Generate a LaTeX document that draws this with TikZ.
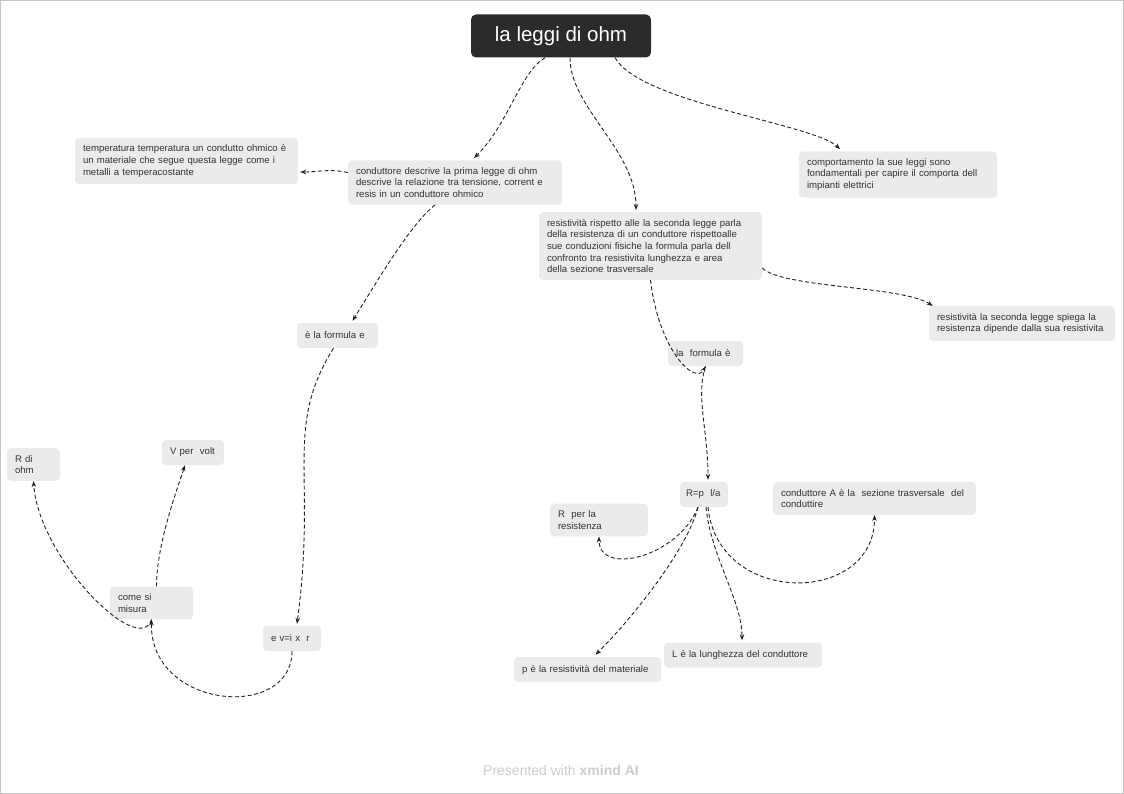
\documentclass[tikz,border=0pt]{standalone}
\usepackage{fontspec}
\setmainfont{Liberation Sans}
\usetikzlibrary{positioning,calc,arrows.meta}
\definecolor{topicgray}{HTML}{EBEBEB}
\definecolor{rootgray}{HTML}{2B2B2B}
\definecolor{linegray}{HTML}{222222}
\definecolor{textgray}{HTML}{333333}
\definecolor{markgray}{HTML}{CCCCCC}

\begin{document}
\begin{tikzpicture}[x=1pt, y=-1pt, >={Stealth[length=6pt,width=4.5pt]},
  topic/.style={fill=topicgray, rounded corners=4pt, align=left, inner xsep=8pt, inner ysep=7pt,
    minimum height=25pt, text=textgray, font=\fontsize{9.6}{11.6}\selectfont},
  link/.style={->, dash pattern=on 4pt off 2.5pt, line width=0.9pt, draw=linegray}]
  \path[use as bounding box] (0,0) rectangle (1124,794);
  \draw[gray!45, line width=1pt] (0.5,0.5) rectangle (1123.5,793.5);

  % root and first level
  \node (root) [fill=rootgray, rounded corners=5pt, text=white, minimum width=180pt, minimum height=43pt,
    font=\fontsize{20.5}{24}\selectfont] at (561,36) {la leggi di ohm};
  \node (temp) [topic, text width=207pt] at (186.5,161) {temperatura temperatura un condutto ohmico è\\ un materiale che segue  questa legge  come i\\metalli a  temperacostante};
  \node (cond) [topic, text width=198pt] at (455,182.5) {conduttore descrive la  prima legge di ohm\\descrive la relazione  tra  tensione, corrent e\\resis in un  conduttore ohmico};
  \node (res) [topic, text width=207pt] at (650.5,246) {resistività rispetto alle la seconda legge  parla\\della resistenza di un conduttore  rispettoalle\\sue conduzioni fisiche la formula  parla dell\\confronto  tra resistivita  lunghezza  e area\\della sezione trasversale};
  \node (comp) [topic, text width=182pt] at (898,174.5) {comportamento la sue leggi sono\\fondamentali per capire il comporta dell\\impianti elettrici};
  \node (res2) [topic, text width=170pt] at (1022,323.5) {resistività la  seconda  legge spiega la\\resistenza dipende dalla sua resistivita};

  % ohm branch
  \node (fe) [topic, text width=65pt] at (337.5,335.5) {è la formula e};
  \node (evir) [topic, text width=42pt] at (292,638.5) {e v=i x\ \ r};
  \node (come) [topic, text width=67pt] at (151.5,603) {come si\\misura};
  \node (rdi) [topic, text width=37pt] at (33.5,464.5) {R di\\ohm};
  \node (vper) [topic, text width=46pt] at (193,452.5) {V per\ \ volt};

  % resistivity branch
  \node (fl) [topic, text width=59pt] at (705.5,353.5) {la\ \ formula è};
  \node (rpl) [topic, text width=36pt, inner xsep=6pt] at (704,494.5) {R=p\ \ l/a};
  \node (rper) [topic, text width=82pt] at (599,520) {R\ \ per la\\resistenza};
  \node (cona) [topic, text width=187pt] at (874.5,498.5) {conduttore A è la\ \ sezione trasversale\ \ del\\conduttire};
  \node (prm) [topic, text width=131pt] at (587.5,669.5) {p è la resistività del materiale};
  \node (lcon) [topic, text width=142pt] at (743,655) {L è la lunghezza del conduttore};

  \node (mark) [text=markgray, font=\fontsize{14}{16}\selectfont] at (561,770) {Presented with \textbf{xmind AI}};

  % connectors
  \draw[link] ([xshift=-16pt]root.south) .. controls +(-25,15) and +(35,-35) .. ([xshift=19pt,yshift=2pt]cond.north);
  \draw[link] ([xshift=9pt]root.south) .. controls +(0,50) and +(0,-60) .. ([xshift=-14.5pt,yshift=2pt]res.north);
  \draw[link] ([xshift=54pt]root.south) .. controls +(25,45) and +(-25,-25) .. ([xshift=-58pt,yshift=2pt]comp.north);
  \draw[link] ([yshift=10pt]cond.west) .. controls +(-20,-4) and +(20,0) .. ([yshift=-11pt,xshift=2pt]temp.east);
  \draw[link] ([xshift=-20pt]cond.south) .. controls +(-25,20) and +(25,-40) .. ([xshift=15pt,yshift=2pt]fe.north);
  \draw[link] ([xshift=-4pt]fe.south) .. controls +(-50,80) and +(20,-150) .. ([xshift=5pt,yshift=2pt]evir.north);
  \draw[link] (evir.south) .. controls +(0,70) and +(-2,90) .. (come.south);
  \draw[link] (come.south) .. controls +(-12,39) and +(5,77) .. (rdi.south);
  \draw[link] ([xshift=5pt]come.north) .. controls +(0,-40) and +(-10,30) .. ([xshift=-8pt]vper.south);
  \draw[link] ([yshift=-22pt]res.east) .. controls +(20,20) and +(-30,-20) .. ([xshift=4pt]res2.north west);
  \draw[link] (res.south) .. controls +(8,70) and +(-10,20) .. (fl.south);
  \draw[link] (fl.south) .. controls +(-10,30) and +(0,-50) .. ([xshift=4pt,yshift=2pt]rpl.north);
  \draw[link] ([xshift=-6pt]rpl.south) .. controls +(-20,50) and +(0,40) .. (rper.south);
  \draw[link] ([xshift=-6pt]rpl.south) .. controls +(-10,40) and +(40,-40) .. ([xshift=8pt,yshift=2pt]prm.north);
  \draw[link] ([xshift=2pt]rpl.south) .. controls +(5,50) and +(0,-40) .. ([xshift=-1pt,yshift=2pt]lcon.north);
  \draw[link] ([xshift=4pt]rpl.south) .. controls +(10,100) and +(0,90) .. (cona.south);
\end{tikzpicture}
\end{document}
